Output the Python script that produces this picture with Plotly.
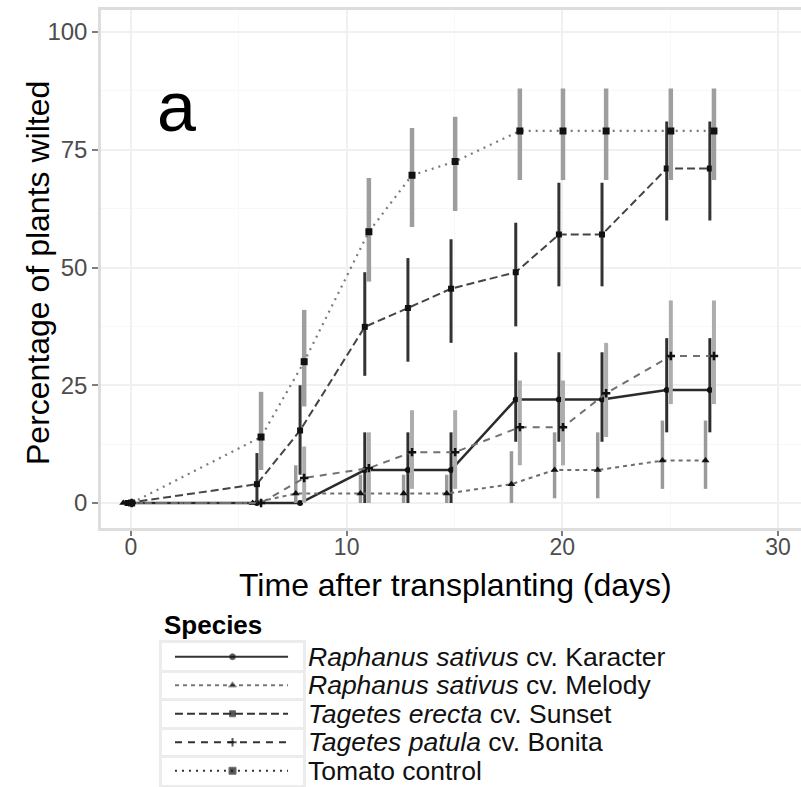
import plotly.graph_objects as go

# ---------------- data ----------------
days = [0, 6, 8, 11, 13, 15, 18, 20, 22, 25, 27]

species = [
    "<i>Raphanus sativus</i> cv. Karacter",
    "<i>Raphanus sativus</i> cv. Melody",
    "<i>Tagetes erecta</i> cv. Sunset",
    "<i>Tagetes patula</i> cv. Bonita",
    "Tomato control",
]

karacter_mean = [0, 0, 0, 7, 7, 7, 22, 22, 22, 24, 24]
karacter_lo   = [0, 0, 0, 0, 0, 0, 13, 13, 13, 15, 15]
karacter_hi   = [0, 0, 0, 15, 15, 15, 32, 32, 32, 35, 35]

melody_mean = [0, 0, 2, 2, 2, 2, 4, 7, 7, 9, 9]
melody_lo   = [0, 0, 0, 0, 0, 0, 0, 1, 1, 3, 3]
melody_hi   = [0, 0, 8, 6, 6, 6, 11, 15, 15, 17.5, 17.5]

sunset_mean = [0, 4, 15.4, 37.4, 41.4, 45.5, 49, 57, 57, 71, 71]
sunset_lo   = [0, 0, 6, 27, 30, 34, 37.5, 46, 46, 60, 60]
sunset_hi   = [0, 10.6, 25, 49, 52, 56, 59.5, 68, 68, 81, 81]

bonita_mean = [0, 0, 5.3, 7.4, 10.8, 10.8, 16.1, 16.1, 23.3, 31.2, 31.2]
bonita_lo   = [0, 0, 0, 0, 3, 3, 8, 8, 14, 21, 21]
bonita_hi   = [0, 0, 12, 15, 19.7, 19.7, 26, 26, 34, 43, 43]

tomato_mean = [0, 14, 30, 57.6, 69.6, 72.5, 79, 79, 79, 79, 79]
tomato_lo   = [0, 7, 20.5, 47, 58.6, 62, 68.6, 68.6, 68.6, 68.6, 68.6]
tomato_hi   = [0, 23.6, 41, 69, 79.6, 82, 88, 88, 88, 88, 88]

x_ticks = [0, 10, 20, 30]
y_ticks = [0, 25, 50, 75, 100]

x_title = "Time after transplanting (days)"
y_title = "Percentage of plants wilted"
legend_title = "Species"
panel_label = "a"

series = [
    (karacter_mean, karacter_lo, karacter_hi),
    (melody_mean, melody_lo, melody_hi),
    (sunset_mean, sunset_lo, sunset_hi),
    (bonita_mean, bonita_lo, bonita_hi),
    (tomato_mean, tomato_lo, tomato_hi),
]

# ---------------- styles ----------------
styles = [
    dict(lc="#2b2b2b", dash="solid", lw=2.5, sym="circle", ms=6, ec="#2e2e2e", et=3, dodge=-0.16),
    dict(lc="#6e6e6e", dash="4px,4px", lw=2, sym="triangle-up", ms=7, ec="#9a9a9a", et=3.5, dodge=-0.36),
    dict(lc="#444444", dash="8px,4px", lw=2, sym="square", ms=6, ec="#333333", et=3, dodge=-0.16),
    dict(lc="#707070", dash="7px,6px", lw=2, sym="cross-thin", ms=6, ec="#adadad", et=4, dodge=0.03),
    dict(lc="#7a7a7a", dash="2px,5px", lw=2.2, sym="square", ms=7, ec="#9e9e9e", et=4.5, dodge=0.03),
]

FONT = "Liberation Sans, Arial, Helvetica, sans-serif"
W, H = 801, 787
PL, PR, PT, PB = 101, 801, 9.5, 528          # plot area in px

fig = go.Figure()

for (mean, lo, hi), st in zip(series, styles):
    xs = [d + st["dodge"] for d in days]
    marker = dict(symbol=st["sym"], size=st["ms"], color="#111111")
    if st["sym"] == "cross-thin":
        marker["line"] = dict(color="#111111", width=2.5)
    fig.add_trace(go.Scatter(
        x=xs, y=mean, mode="lines+markers",
        line=dict(color=st["lc"], width=st["lw"], dash=st["dash"]),
        marker=marker,
        error_y=dict(type="data", symmetric=False,
                     array=[h - m for h, m in zip(hi, mean)],
                     arrayminus=[m - l for m, l in zip(mean, lo)],
                     color=st["ec"], thickness=st["et"], width=0),
        showlegend=False, hoverinfo="skip",
    ))

# ---------------- manual legend (keys on auxiliary axes) ----------------
for i, st in enumerate(styles):
    marker = dict(symbol=st["sym"], size=[0, st["ms"], 0], color="#111111")
    if st["sym"] == "cross-thin":
        marker["line"] = dict(color="#111111", width=2)
    fig.add_trace(go.Scatter(
        x=[0.092, 0.5, 0.894], y=[i, i, i], mode="lines+markers",
        line=dict(color="#333333" if i != 1 else "#777777", width=2, dash=st["dash"]),
        marker=marker, xaxis="x2", yaxis="y2",
        showlegend=False, hoverinfo="skip",
    ))

row_h = 28.5
rows_top = 642.5
annotations = [
    dict(text=panel_label, x=2.1, y=84, xref="x", yref="y", showarrow=False,
         font=dict(family=FONT, size=70, color="#000000")),
    dict(text=x_title, x=(PL + 810) / 2 / W, y=1 - 565 / H, xref="paper", yref="paper",
         xanchor="center", yanchor="top", showarrow=False,
         font=dict(family=FONT, size=32, color="#000000")),
    dict(text=y_title, x=38 / W, y=1 - 273 / H, xref="paper", yref="paper",
         xanchor="center", yanchor="middle", showarrow=False, textangle=-90,
         font=dict(family=FONT, size=32, color="#000000")),
    dict(text="<b>%s</b>" % legend_title, x=162 / W, y=1 - 625 / H, xref="paper", yref="paper",
         xanchor="left", yanchor="middle", showarrow=False,
         font=dict(family=FONT, size=26, color="#000000")),
]
for i, name in enumerate(species):
    yc = rows_top + row_h * (i + 0.5)
    annotations.append(dict(
        text=name, x=306 / W, y=1 - yc / H, xref="paper", yref="paper",
        xanchor="left", yanchor="middle", showarrow=False,
        font=dict(family=FONT, size=26.5, color="#111111")))

fig.update_layout(
    width=W, height=H,
    margin=dict(l=0, r=0, t=0, b=0),
    paper_bgcolor="white", plot_bgcolor="white",
    font=dict(family=FONT),
    annotations=annotations,
    xaxis=dict(
        domain=[PL / W, PR / W],
        range=[-1.391, 31.066],
        tickvals=x_ticks, ticktext=[str(v) for v in x_ticks],
        ticks="outside", ticklen=5, tickcolor="#7f7f7f", tickwidth=1.5,
        ticklabelstandoff=-8,
        tickfont=dict(family=FONT, size=23, color="#4d4d4d"),
        showgrid=True, gridcolor="#f0f0f0", gridwidth=1.5,
        minor=dict(dtick=5, tick0=0, showgrid=True, gridcolor="#f8f8f8", gridwidth=1, ticks=""),
        zeroline=False, showline=True, linecolor="#dddddd", linewidth=2.5, mirror=True,
        automargin=False, anchor="y",
    ),
    yaxis=dict(
        domain=[1 - PB / H, 1 - PT / H],
        range=[-5.31, 104.78],
        tickvals=y_ticks, ticktext=[str(v) for v in y_ticks],
        ticks="outside", ticklen=6, tickcolor="#7f7f7f", tickwidth=1.5,
        tickfont=dict(family=FONT, size=24, color="#4d4d4d"),
        showgrid=True, gridcolor="#f0f0f0", gridwidth=1.5,
        minor=dict(dtick=12.5, tick0=0, showgrid=True, gridcolor="#f8f8f8", gridwidth=1, ticks=""),
        zeroline=False, showline=True, linecolor="#dddddd", linewidth=2.5, mirror=False,
        automargin=False, anchor="x",
    ),
    xaxis2=dict(
        domain=[162 / W, 303 / W], range=[0, 1], anchor="y2",
        showgrid=False, zeroline=False, showticklabels=False, ticks="",
        showline=True, linecolor="#ececec", linewidth=2.5, mirror=True, fixedrange=True,
    ),
    yaxis2=dict(
        domain=[1 - (rows_top + 5 * row_h) / H, 1 - rows_top / H], range=[4.5, -0.5], anchor="x2",
        tickvals=[0.5, 1.5, 2.5, 3.5], showticklabels=False, ticks="",
        showgrid=True, gridcolor="#ececec", gridwidth=2.5, zeroline=False,
        showline=True, linecolor="#ececec", linewidth=2.5, mirror=True, fixedrange=True,
    ),
)

fig.write_html("out.html")
